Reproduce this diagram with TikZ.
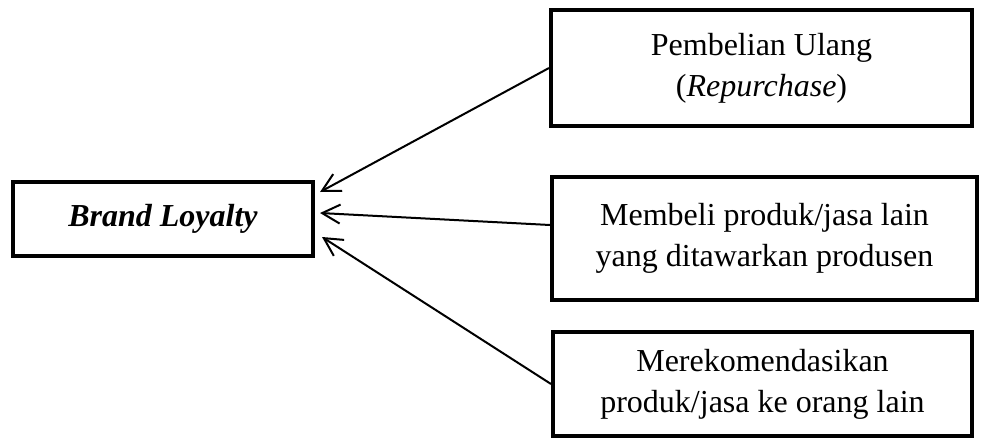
\documentclass[tikz,border=0pt]{standalone}
\usepackage{fontspec}
\setmainfont{Liberation Serif}
\usetikzlibrary{arrows.meta}
\begin{document}
\begin{tikzpicture}[x=1pt,y=-1pt,
  box/.style={draw=black,line width=4pt,inner sep=0pt,align=center,
    font=\fontsize{32}{41}\selectfont},
  conn/.style={draw=black,line width=2pt,-{Straight Barb[length=18pt,width=19pt,line width=2pt]}}]
\useasboundingbox (0,0) rectangle (987,439);
\node[box,minimum width=300pt,minimum height=74pt] (bl) at (163,219) {\textbf{\textit{Brand Loyalty}}};
\node[box,minimum width=421pt,minimum height=116pt] (b1) at (761.5,68) {Pembelian Ulang\\(\textit{Repurchase})};
\node[box,minimum width=425pt,minimum height=123pt] (b2) at (764.5,238.5) {Membeli produk/jasa lain\\yang ditawarkan produsen};
\node[box,minimum width=419pt,minimum height=104pt] (b3) at (762.5,384) {Merekomendasikan\\produk/jasa ke orang lain};
\coordinate (t1) at (320,192);
\coordinate (t2) at (320,213);
\coordinate (t3) at (322,237);
\coordinate (s2) at (b2.west |- 0,225);
\draw[conn] (b1.west) -- (t1);
\draw[conn] (s2) -- (t2);
\draw[conn] (b3.west) -- (t3);
\end{tikzpicture}
\end{document}
